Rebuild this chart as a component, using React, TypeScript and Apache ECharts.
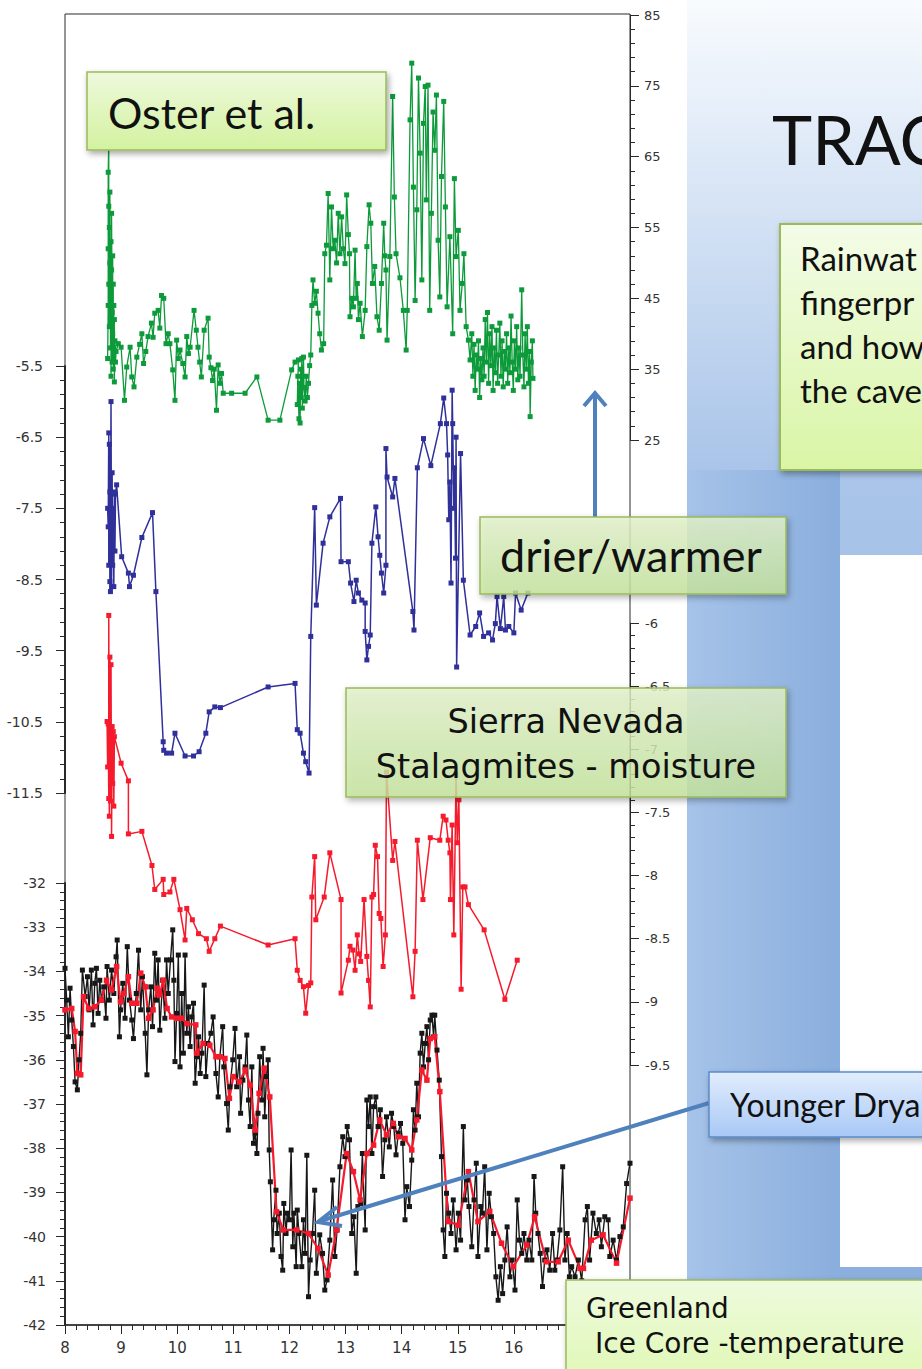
import { useEffect, useRef } from "react";
import * as echarts from "echarts";

// ---------------- DATA (age in ka) ----------------
const xAgeMin = 8;
const xAgeMax = 18.07;
const xTickLabelsShown = [8, 9, 10, 11, 12, 13, 14, 15, 16];

// Oster et al. (green, right axis 25..85)
const osterSeries: [number, number][] = [
  [8.76, 36.5], [8.77, 44], [8.77, 52], [8.77, 62.8], [8.78, 67], [8.78, 58], [8.78, 47], [8.79, 55], [8.79, 41],
  [8.8, 50], [8.8, 60], [8.81, 45], [8.81, 38], [8.82, 53], [8.82, 34], [8.83, 49], [8.83, 57], [8.84, 43],
  [8.84, 36], [8.85, 51], [8.85, 40], [8.86, 47], [8.86, 35], [8.87, 44], [8.87, 38], [8.88, 42], [8.88, 33.2],
  [8.89, 39], [8.9, 36], [8.91, 37.5], [8.95, 38.6], [9.0, 38.1], [9.06, 30.6], [9.1, 35.3], [9.16, 38.1],
  [9.19, 33.9], [9.23, 32.5], [9.28, 36.7], [9.33, 38.5], [9.37, 40.0], [9.4, 35.8], [9.44, 37.5], [9.48, 39.6],
  [9.54, 41.5], [9.57, 39.5], [9.6, 42.9], [9.66, 43.3], [9.69, 40.8], [9.72, 45.4], [9.76, 45.0], [9.8, 38.6],
  [9.84, 40], [9.87, 38.6], [9.92, 34.9], [9.96, 30.6], [9.99, 39.1], [10.02, 36.5], [10.05, 37.7], [10.1, 35.8],
  [10.14, 33.9], [10.17, 39.6], [10.2, 37.2], [10.23, 38.1], [10.3, 43.3], [10.34, 40.5], [10.37, 38.1],
  [10.4, 36], [10.43, 33.9], [10.48, 40.5], [10.55, 42.2], [10.57, 36.7], [10.6, 35.2], [10.63, 33.4],
  [10.66, 35], [10.7, 29.2], [10.73, 35.6], [10.76, 33], [10.79, 34.4], [10.82, 31.6], [10.97, 31.6],
  [11.21, 31.6], [11.42, 33.9], [11.62, 27.8], [11.83, 27.8], [12.04, 34.9], [12.1, 36], [12.16, 36.3],
  [12.14, 30], [12.15, 34], [12.17, 28], [12.18, 33], [12.19, 27.4], [12.2, 35], [12.21, 31], [12.22, 36.5],
  [12.23, 29.5], [12.25, 36.7], [12.26, 32.4], [12.28, 30.5], [12.3, 34], [12.32, 31], [12.34, 33.0],
  [12.36, 35.5], [12.38, 37], [12.4, 44], [12.42, 47.6], [12.45, 44.3], [12.48, 46], [12.51, 42.9],
  [12.54, 40], [12.57, 37.7], [12.61, 38.6], [12.63, 51.3], [12.66, 52.5], [12.69, 59.8], [12.72, 47.6],
  [12.75, 57.9], [12.78, 52], [12.81, 53.2], [12.84, 50], [12.87, 57.0], [12.9, 51.3], [12.93, 56.5],
  [12.96, 52], [12.99, 49.9], [13.02, 59.6], [13.05, 54], [13.07, 51.3], [13.08, 42.4], [13.11, 45],
  [13.14, 43.8], [13.17, 51.8], [13.19, 45], [13.21, 47.1], [13.23, 42], [13.26, 44.3], [13.3, 39.6],
  [13.35, 43.3], [13.38, 52.3], [13.42, 58.2], [13.45, 55.6], [13.48, 47.1], [13.52, 49.5], [13.56, 42.4],
  [13.6, 40.5], [13.64, 47.1], [13.68, 55.6], [13.7, 51], [13.72, 49.0], [13.74, 39.1], [13.79, 50.9],
  [13.84, 73.5], [13.87, 59.3], [13.9, 51.3], [13.97, 47.9], [14.03, 43.3], [14.08, 37.7], [14.1, 43.3],
  [14.15, 70.2], [14.18, 78.2], [14.21, 60.7], [14.24, 44.7], [14.27, 57.5], [14.3, 76.1], [14.33, 65.5],
  [14.36, 47.6], [14.39, 69.7], [14.42, 74.9], [14.44, 58.9], [14.47, 75.1], [14.5, 43.3], [14.53, 57.0],
  [14.56, 71.3], [14.59, 65.9], [14.62, 73.7], [14.65, 53.2], [14.68, 45.2], [14.71, 62.2], [14.75, 72.8],
  [14.78, 57.9], [14.81, 43.8], [14.86, 53.7], [14.91, 40.0], [14.94, 61.9], [14.97, 50.9], [15.01, 54.6],
  [15.04, 43.3], [15.08, 47.1], [15.11, 51.3], [15.15, 41.0], [15.19, 39.1], [15.22, 36.3], [15.25, 40],
  [15.27, 34], [15.29, 38.5], [15.31, 32], [15.33, 37], [15.35, 35], [15.37, 39], [15.39, 31], [15.41, 36.5],
  [15.43, 33.5], [15.45, 38], [15.47, 34], [15.49, 42], [15.51, 36], [15.53, 43], [15.55, 33], [15.57, 40],
  [15.59, 35.5], [15.61, 41], [15.63, 32], [15.65, 38], [15.67, 34.5], [15.69, 40.5], [15.71, 33],
  [15.73, 37], [15.75, 41.5], [15.77, 34], [15.79, 39], [15.81, 32.5], [15.83, 37.5], [15.85, 35],
  [15.87, 40], [15.89, 33], [15.91, 38], [15.93, 34.5], [15.95, 42.5], [15.97, 36], [15.99, 32], [16.01, 39],
  [16.03, 35], [16.05, 41], [16.07, 33.5], [16.09, 38], [16.11, 34], [16.14, 46.2], [16.16, 37], [16.18, 32.5],
  [16.2, 40], [16.22, 35], [16.24, 41], [16.26, 33], [16.28, 37.5], [16.29, 28.3], [16.31, 36], [16.33, 39],
  [16.34, 33.7],
];

// Sierra Nevada stalagmite 1 (blue, left axis -11.5..-5.5)
const blueStalagSeries: [number, number][] = [
  [8.76, -7.5], [8.77, -7.76], [8.78, -6.44], [8.78, -8.3], [8.79, -6.6], [8.8, -8.53], [8.8, -7.27],
  [8.81, -8.67], [8.82, -6.0], [8.83, -8.6], [8.84, -7.0], [8.85, -8.3], [8.86, -7.5], [8.87, -8.6],
  [8.88, -7.27], [8.89, -8.1], [8.9, -7.3], [8.92, -7.17], [9.01, -8.18], [9.13, -8.41], [9.15, -8.6],
  [9.22, -8.44], [9.37, -7.91], [9.56, -7.56], [9.62, -8.67], [9.75, -10.78], [9.76, -10.9], [9.81, -10.94],
  [9.9, -10.94], [9.96, -10.66], [10.14, -10.98], [10.29, -10.98], [10.39, -10.92], [10.51, -10.66],
  [10.57, -10.36], [10.67, -10.29], [10.77, -10.3], [11.62, -10.01], [12.1, -9.96], [12.14, -10.61],
  [12.19, -10.66], [12.25, -10.94], [12.29, -11.06], [12.35, -11.22], [12.38, -9.3], [12.45, -7.49],
  [12.48, -8.86], [12.6, -7.99], [12.72, -7.62], [12.91, -7.36], [12.92, -8.25], [13.05, -8.25],
  [13.09, -8.55], [13.15, -8.81], [13.19, -8.51], [13.23, -8.69], [13.29, -8.79], [13.35, -8.83],
  [13.35, -9.23], [13.38, -9.63], [13.41, -9.44], [13.44, -9.28], [13.47, -7.99], [13.54, -7.48],
  [13.58, -7.9], [13.61, -8.16], [13.64, -8.41], [13.68, -8.69], [13.72, -8.3], [13.72, -6.66],
  [13.74, -7.06], [13.84, -7.34], [13.88, -7.08], [14.2, -8.95], [14.22, -9.21], [14.28, -6.93],
  [14.39, -6.52], [14.52, -6.9], [14.69, -6.31], [14.75, -5.95], [14.8, -6.31], [14.82, -6.75],
  [14.84, -7.66], [14.86, -7.13], [14.88, -8.55], [14.9, -5.84], [14.91, -6.31], [14.93, -7.5],
  [14.94, -6.93], [14.96, -8.2], [14.97, -6.5], [14.98, -9.73], [15.05, -6.73], [15.1, -8.51],
  [15.22, -9.28], [15.32, -9.16], [15.39, -8.97], [15.46, -9.3], [15.55, -9.25], [15.62, -9.35],
  [15.67, -9.12], [15.7, -8.74], [15.76, -9.19], [15.82, -8.74], [15.85, -9.21], [15.91, -9.16],
  [16.0, -9.25], [16.03, -8.69], [16.13, -8.93], [16.25, -8.69],
];

// Sierra Nevada stalagmite 2 (red, right axis -9.5..-6)
const redStalagSeries: [number, number][] = [
  [8.75, -6.78], [8.76, -7.14], [8.77, -6.8], [8.78, -7.39], [8.78, -5.94], [8.79, -7.53], [8.8, -6.27],
  [8.81, -7.41], [8.82, -6.33], [8.83, -7.69], [8.84, -6.82], [8.85, -7.27], [8.86, -6.86], [8.87, -7.45],
  [8.88, -6.9], [9.0, -7.11], [9.13, -7.25], [9.13, -7.67], [9.37, -7.65], [9.55, -7.92], [9.6, -8.11],
  [9.75, -8.03], [9.76, -8.15], [9.87, -8.13], [9.94, -8.03], [10.05, -8.27], [10.14, -8.51], [10.17, -8.26],
  [10.27, -8.35], [10.38, -8.46], [10.52, -8.5], [10.57, -8.6], [10.67, -8.5], [10.77, -8.4], [11.62, -8.55],
  [12.1, -8.5], [12.14, -8.75], [12.19, -8.83], [12.25, -8.88], [12.29, -9.09], [12.34, -8.87],
  [12.38, -8.85], [12.4, -8.17], [12.45, -7.85], [12.47, -8.35], [12.62, -8.17], [12.72, -7.82],
  [12.92, -8.19], [12.92, -8.93], [13.05, -8.67], [13.08, -8.56], [13.13, -8.59], [13.17, -8.75],
  [13.21, -8.47], [13.24, -8.62], [13.27, -8.68], [13.33, -8.19], [13.38, -8.64], [13.41, -8.83],
  [13.44, -9.04], [13.47, -8.17], [13.5, -8.15], [13.53, -7.76], [13.57, -7.85], [13.6, -8.3],
  [13.63, -8.34], [13.67, -8.72], [13.71, -8.47], [13.73, -7.18], [13.84, -7.88], [13.88, -7.73],
  [14.2, -8.96], [14.24, -8.6], [14.28, -7.72], [14.38, -8.19], [14.51, -7.7], [14.68, -7.72],
  [14.74, -7.53], [14.79, -7.56], [14.83, -7.72], [14.86, -7.82], [14.87, -8.19], [14.9, -7.6],
  [14.93, -8.47], [14.97, -7.2], [14.99, -7.74], [15.02, -7.4], [15.06, -8.9], [15.09, -8.09],
  [15.13, -8.09], [15.19, -8.23], [15.47, -8.43], [15.84, -8.98], [16.06, -8.67],
];

// Greenland ice core temperature proxy (black raw, red smoothed; left axis -42..-32)
const greenlandRaw: [number, number][] = [
  [8.0, -33.93], [8.03, -34.65], [8.06, -35.48], [8.09, -34.38], [8.12, -35.1], [8.15, -35.7], [8.18, -36.5],
  [8.22, -36.68], [8.25, -36.0], [8.28, -35.4], [8.31, -33.97], [8.36, -34.57], [8.4, -34.12], [8.43, -34.87],
  [8.47, -33.97], [8.5, -35.21], [8.53, -34.27], [8.56, -33.93], [8.59, -34.95], [8.62, -34.2], [8.65, -34.65],
  [8.69, -34.35], [8.73, -35.06], [8.75, -33.89], [8.79, -34.65], [8.83, -33.97], [8.87, -34.5], [8.91, -33.67],
  [8.93, -33.29], [8.97, -35.48], [8.99, -34.87], [9.03, -34.27], [9.07, -35.06], [9.11, -33.44], [9.15, -34.65],
  [9.19, -35.1], [9.22, -35.52], [9.27, -34.5], [9.31, -33.52], [9.35, -34.87], [9.38, -34.12], [9.43, -35.4],
  [9.46, -36.34], [9.49, -34.87], [9.53, -34.35], [9.56, -35.25], [9.6, -33.59], [9.63, -34.65], [9.66, -33.74],
  [9.69, -35.33], [9.74, -34.2], [9.78, -35.06], [9.81, -33.74], [9.84, -34.5], [9.88, -33.74], [9.92, -33.06],
  [9.94, -34.2], [9.96, -36.04], [9.99, -34.95], [10.02, -33.63], [10.05, -36.16], [10.08, -34.5], [10.11, -35.85],
  [10.14, -33.63], [10.17, -35.4], [10.2, -34.8], [10.23, -35.7], [10.26, -35.03], [10.29, -34.72], [10.32, -36.53],
  [10.35, -35.93], [10.38, -35.48], [10.41, -36.31], [10.44, -35.85], [10.48, -34.31], [10.51, -36.38],
  [10.55, -35.63], [10.6, -35.4], [10.64, -35.03], [10.69, -36.31], [10.73, -36.84], [10.76, -35.93],
  [10.81, -35.25], [10.83, -36.16], [10.88, -36.99], [10.91, -37.59], [10.94, -36.61], [10.99, -36.0],
  [11.03, -35.29], [11.06, -36.61], [11.11, -35.93], [11.13, -37.21], [11.17, -36.46], [11.21, -36.16],
  [11.24, -35.44], [11.27, -36.91], [11.3, -37.51], [11.33, -36.16], [11.36, -37.89], [11.39, -37.66],
  [11.42, -38.12], [11.44, -37.21], [11.47, -35.93], [11.51, -36.91], [11.53, -35.74], [11.56, -37.29],
  [11.59, -36.38], [11.62, -36.0], [11.64, -38.04], [11.66, -38.76], [11.7, -40.3], [11.72, -39.62],
  [11.76, -38.95], [11.78, -39.93], [11.82, -39.47], [11.85, -40.45], [11.88, -40.76], [11.9, -39.25],
  [11.94, -39.93], [11.96, -39.47], [12.0, -39.62], [12.03, -38.04], [12.06, -40.23], [12.08, -39.47],
  [12.12, -40.68], [12.14, -39.4], [12.17, -39.93], [12.22, -40.68], [12.25, -39.62], [12.28, -40.38],
  [12.31, -38.16], [12.34, -41.36], [12.37, -40.53], [12.41, -39.93], [12.45, -38.95], [12.48, -40.83],
  [12.54, -39.96], [12.59, -40.38], [12.63, -41.21], [12.67, -40.98], [12.72, -40.08], [12.77, -38.72],
  [12.81, -40.45], [12.85, -39.85], [12.9, -38.42], [12.95, -37.74], [12.99, -38.19], [13.03, -37.51],
  [13.07, -37.81], [13.11, -39.93], [13.15, -39.55], [13.19, -40.83], [13.22, -39.32], [13.27, -39.25],
  [13.3, -38.12], [13.35, -39.85], [13.38, -36.91], [13.41, -37.51], [13.44, -36.84], [13.47, -38.12],
  [13.5, -37.06], [13.54, -36.84], [13.58, -37.51], [13.62, -37.13], [13.66, -38.64], [13.7, -37.81],
  [13.73, -37.29], [13.78, -37.97], [13.82, -37.21], [13.86, -37.51], [13.9, -38.15], [13.94, -37.66],
  [13.98, -37.44], [14.02, -37.89], [14.06, -39.62], [14.09, -38.87], [14.14, -39.32], [14.18, -38.27],
  [14.21, -37.13], [14.24, -37.59], [14.27, -36.53], [14.3, -37.29], [14.33, -35.85], [14.36, -35.4],
  [14.39, -36.16], [14.42, -35.63], [14.45, -35.25], [14.48, -36.0], [14.51, -35.1], [14.54, -34.99],
  [14.57, -35.48], [14.59, -34.99], [14.63, -35.78], [14.67, -36.46], [14.71, -38.19], [14.74, -39.85],
  [14.77, -40.45], [14.8, -39.02], [14.84, -39.47], [14.88, -39.93], [14.92, -39.17], [14.97, -40.3],
  [15.01, -39.47], [15.05, -40.08], [15.1, -37.51], [15.13, -39.17], [15.17, -38.72], [15.2, -39.32],
  [15.25, -40.23], [15.29, -39.17], [15.33, -38.34], [15.36, -40.45], [15.41, -39.32], [15.44, -39.47],
  [15.48, -38.42], [15.52, -40.3], [15.56, -39.02], [15.6, -39.55], [15.64, -39.93], [15.68, -40.91],
  [15.72, -41.44], [15.76, -40.68], [15.8, -41.29], [15.84, -40.53], [15.88, -39.78], [15.93, -40.91],
  [15.97, -40.53], [16.02, -41.21], [16.06, -39.17], [16.1, -40.08], [16.14, -40.38], [16.18, -39.93],
  [16.23, -40.53], [16.27, -40.08], [16.32, -40.53], [16.36, -38.64], [16.39, -39.47], [16.43, -39.93],
  [16.47, -40.38], [16.51, -41.13], [16.55, -40.53], [16.59, -40.3], [16.64, -40.76], [16.69, -39.93],
  [16.73, -40.76], [16.77, -40.53], [16.82, -39.85], [16.87, -38.42], [16.91, -40.53], [16.95, -39.93],
  [16.99, -40.91], [17.03, -40.68], [17.09, -40.91], [17.15, -40.53], [17.21, -41.0], [17.27, -39.62],
  [17.31, -39.32], [17.35, -40.53], [17.41, -39.47], [17.47, -39.93], [17.52, -39.62], [17.56, -40.23],
  [17.62, -39.55], [17.68, -39.62], [17.71, -40.45], [17.77, -40.08], [17.83, -40.53], [17.89, -40.0],
  [17.95, -39.78], [18.01, -38.8], [18.07, -38.34],
];

const greenlandSmooth: [number, number][] = [
  [8.0, -34.87], [8.12, -34.84], [8.18, -35.36], [8.22, -36.31], [8.28, -36.34], [8.33, -34.57], [8.42, -34.84],
  [8.53, -34.8], [8.65, -34.65], [8.74, -34.2], [8.83, -34.42], [8.92, -33.89], [8.99, -34.69], [9.05, -34.5],
  [9.13, -34.12], [9.19, -34.72], [9.28, -34.72], [9.35, -34.04], [9.43, -34.35], [9.49, -35.06], [9.57, -34.87],
  [9.64, -34.38], [9.69, -34.53], [9.75, -34.2], [9.82, -34.84], [9.9, -35.03], [9.99, -35.06], [10.08, -35.06],
  [10.17, -35.18], [10.33, -35.21], [10.35, -35.85], [10.46, -35.63], [10.58, -35.67], [10.69, -35.93],
  [10.76, -35.93], [10.85, -35.97], [10.93, -36.87], [11.0, -36.38], [11.11, -36.5], [11.21, -36.23],
  [11.3, -36.57], [11.39, -37.59], [11.46, -36.76], [11.55, -36.19], [11.65, -36.84], [11.77, -39.44],
  [11.89, -39.85], [12.13, -39.85], [12.34, -39.93], [12.51, -40.27], [12.69, -40.87], [12.84, -39.85],
  [13.02, -38.12], [13.14, -38.53], [13.26, -39.17], [13.38, -38.12], [13.5, -37.93], [13.61, -37.36],
  [13.73, -37.7], [13.85, -37.44], [13.94, -37.74], [14.06, -37.78], [14.18, -38.04], [14.27, -37.36],
  [14.36, -36.23], [14.45, -36.46], [14.51, -35.52], [14.59, -35.48], [14.68, -36.72], [14.83, -39.66],
  [15.01, -39.74], [15.19, -38.53], [15.36, -39.66], [15.57, -39.43], [15.78, -40.15], [15.99, -40.68],
  [16.23, -40.19], [16.37, -39.55], [16.58, -40.57], [16.79, -40.57], [16.97, -40.08], [17.18, -40.72],
  [17.24, -40.72], [17.38, -40.08], [17.59, -39.96], [17.83, -40.6], [18.07, -39.13],
];

// Text content
const titleText = "TRAC";
const infoLines = ["Rainwat", "fingerpr", "and how", "the cave"];
const osterLabel = "Oster et al.";
const drierLabel = "drier/warmer";
const sierraLines = ["Sierra Nevada", "Stalagmites - moisture"];
const youngerDryasLabel = "Younger Drya";
const greenlandLines = ["Greenland", "Ice Core -temperature"];

// ---------------- STYLE ----------------
const GREEN = "#0d9a3a";
const BLUE = "#30309a";
const RED = "#f51a2c";
const BLACK = "#171717";
const AXIS = "#2a2a2a";
const ARROW = "#4f81bd";
const BOX_STROKE = "#9bbb59";
const COMIC = "'DejaVu Sans', 'Noto Sans', sans-serif";
const SLIDE = "Lato, 'Open Sans', sans-serif";

function vgrad(stops: [number, string][]) {
  return { type: "linear", x: 0, y: 0, x2: 0, y2: 1, colorStops: stops.map(([offset, color]) => ({ offset, color })) };
}
function hgrad(stops: [number, string][]) {
  return { type: "linear", x: 0, y: 0, x2: 1, y2: 0, colorStops: stops.map(([offset, color]) => ({ offset, color })) };
}

const shadow = { shadowBlur: 6, shadowOffsetX: 2, shadowOffsetY: 3, shadowColor: "rgba(0,0,0,0.35)" };

function yAxis(gridIndex: number, position: "left" | "right", min: number, max: number, interval: number, opts: any) {
  return {
    type: "value",
    gridIndex,
    position,
    min,
    max,
    interval,
    splitLine: { show: false },
    axisLine: { show: true, onZero: false, lineStyle: { color: AXIS, width: opts.lineWidth ?? 1 } },
    axisTick: { show: true, length: 9, lineStyle: { color: AXIS, width: 1 } },
    minorTick: { show: true, splitNumber: 5, length: 5, lineStyle: { color: AXIS, width: 1 } },
    axisLabel: {
      show: true,
      margin: opts.margin,
      color: "#333",
      fontSize: opts.fontSize,
      fontFamily: opts.fontFamily,
      showMinLabel: true,
      showMaxLabel: true,
    },
  };
}

function xAxis(gridIndex: number, show: boolean) {
  return {
    type: "value",
    gridIndex,
    min: xAgeMin,
    max: xAgeMax,
    interval: 1,
    show,
    position: "bottom",
    splitLine: { show: false },
    axisLine: { show: true, onZero: false, lineStyle: { color: AXIS, width: 1.5 } },
    axisTick: { show: true, length: 9, lineStyle: { color: AXIS } },
    minorTick: { show: true, splitNumber: 5, length: 5, lineStyle: { color: AXIS } },
    axisLabel: {
      margin: 15,
      color: "#333",
      fontSize: 15,
      fontFamily: "'DejaVu Sans', sans-serif",
      formatter: (v: number) => (xTickLabelsShown.includes(v) ? String(v) : ""),
    },
  };
}

function lineSeries(name: string, data: [number, number][], idx: number, color: string, width: number, size: number) {
  return {
    name,
    type: "line",
    xAxisIndex: idx,
    yAxisIndex: idx,
    data,
    clip: false,
    symbol: "rect",
    symbolSize: size,
    showSymbol: true,
    showAllSymbol: true,
    lineStyle: { color, width },
    itemStyle: { color },
    silent: true,
  };
}

function buildGraphics() {
  const els: any[] = [];
  // slide background on the right
  els.push({ type: "rect", z: -100, shape: { x: 687, y: 0, width: 240, height: 1369 }, style: { fill: vgrad([[0, "#f8fbfe"], [0.34, "#aac5e9"], [1, "#88acdc"]]) } });
  els.push({ type: "rect", z: -99, shape: { x: 687, y: 470, width: 153, height: 899 }, style: { fill: hgrad([[0, "#a6c3e9"], [1, "#8aaedd"]]) } });
  els.push({ type: "rect", z: -98, shape: { x: 840, y: 555, width: 90, height: 712 }, style: { fill: "#ffffff" } });
  // chart frame
  els.push({ type: "rect", z: -50, shape: { x: 65, y: 14, width: 565, height: 1311 }, style: { fill: "#ffffff", stroke: AXIS, lineWidth: 1 } });

  // title
  els.push({ type: "text", z: 100, x: 772, y: 138, style: { text: titleText, font: `68px ${SLIDE}`, fill: "#111", textAlign: "left", textVerticalAlign: "middle" } });
  // info box top right
  els.push({ type: "rect", z: 100, shape: { x: 780, y: 224, width: 160, height: 246 }, style: { fill: vgrad([[0, "#f3fce8"], [1, "#d9f5a5"]]), stroke: BOX_STROKE, lineWidth: 2, ...shadow } });
  infoLines.forEach((t, i) => {
    els.push({ type: "text", z: 101, x: 800, y: 258 + i * 44, style: { text: t, font: `33px ${SLIDE}`, fill: "#111", textAlign: "left", textVerticalAlign: "middle" } });
  });

  // Oster et al. box
  els.push({ type: "rect", z: 100, shape: { x: 87, y: 72, width: 299, height: 78 }, style: { fill: vgrad([[0, "#eef9dc"], [1, "#d3f2a0"]]), stroke: BOX_STROKE, lineWidth: 1.5, ...shadow } });
  els.push({ type: "text", z: 101, x: 108, y: 112, style: { text: osterLabel, font: `43px ${SLIDE}`, fill: "#111", textAlign: "left", textVerticalAlign: "middle" } });

  // up arrow
  els.push({ type: "line", z: 90, shape: { x1: 595, y1: 517, x2: 595, y2: 394 }, style: { stroke: ARROW, lineWidth: 4 } });
  els.push({ type: "polyline", z: 90, shape: { points: [[584, 406], [595, 393], [606, 406]] }, style: { stroke: ARROW, lineWidth: 4, fill: null } });

  // drier/warmer box
  els.push({ type: "rect", z: 100, shape: { x: 480, y: 517, width: 306, height: 77 }, style: { fill: vgrad([[0, "rgba(228,244,204,0.8)"], [1, "rgba(198,230,158,0.8)"]]), stroke: BOX_STROKE, lineWidth: 1.5, ...shadow } });
  els.push({ type: "text", z: 101, x: 500, y: 555, style: { text: drierLabel, font: `45px ${SLIDE}`, fill: "#111", textAlign: "left", textVerticalAlign: "middle" } });

  // Sierra Nevada box
  els.push({ type: "rect", z: 100, shape: { x: 346, y: 688, width: 440, height: 109 }, style: { fill: vgrad([[0, "rgba(228,244,204,0.8)"], [1, "rgba(198,230,158,0.8)"]]), stroke: BOX_STROKE, lineWidth: 1.5, ...shadow } });
  sierraLines.forEach((t, i) => {
    els.push({ type: "text", z: 101, x: 566, y: 721 + i * 45, style: { text: t, font: `33.5px ${COMIC}`, fill: "#111", textAlign: "center", textVerticalAlign: "middle" } });
  });

  // Younger Dryas arrow
  els.push({ type: "line", z: 90, shape: { x1: 709, y1: 1103, x2: 320, y2: 1221 }, style: { stroke: ARROW, lineWidth: 4 } });
  els.push({ type: "polyline", z: 90, shape: { points: [[337, 1207], [318, 1222], [342, 1226]] }, style: { stroke: ARROW, lineWidth: 4, fill: null } });
  // Younger Dryas box
  els.push({ type: "rect", z: 100, shape: { x: 709, y: 1072, width: 230, height: 65 }, style: { fill: vgrad([[0, "#e2edfd"], [1, "#a8c8f6"]]), stroke: "#5b8bc9", lineWidth: 1.5, ...shadow } });
  els.push({ type: "text", z: 101, x: 730, y: 1104, style: { text: youngerDryasLabel, font: `32px ${SLIDE}`, fill: "#111", textAlign: "left", textVerticalAlign: "middle" } });

  // Greenland box
  els.push({ type: "rect", z: 100, shape: { x: 566, y: 1280, width: 370, height: 100 }, style: { fill: vgrad([[0, "#eefadd"], [1, "#e0f8b6"]]), stroke: BOX_STROKE, lineWidth: 1.5, ...shadow } });
  els.push({ type: "text", z: 101, x: 586, y: 1308, style: { text: greenlandLines[0], font: `27.5px ${COMIC}`, fill: "#111", textAlign: "left", textVerticalAlign: "middle" } });
  els.push({ type: "text", z: 101, x: 595, y: 1343, style: { text: greenlandLines[1], font: `28px ${COMIC}`, fill: "#111", textAlign: "left", textVerticalAlign: "middle" } });
  return els;
}

function buildOption() {
  const L = 65;
  const W = 565;
  return {
    animation: false,
    backgroundColor: "#ffffff",
    grid: [
      { left: L, width: W, top: 15, height: 425, outerBoundsMode: "none", containLabel: false },
      { left: L, width: W, top: 366, height: 427, outerBoundsMode: "none", containLabel: false },
      { left: L, width: W, top: 623, height: 442, outerBoundsMode: "none", containLabel: false },
      { left: L, width: W, top: 883, height: 442, outerBoundsMode: "none", containLabel: false },
    ],
    xAxis: [xAxis(0, false), xAxis(1, false), xAxis(2, false), xAxis(3, true)],
    yAxis: [
      yAxis(0, "right", 25, 85, 10, { margin: 14, fontSize: 13, fontFamily: "'DejaVu Sans', sans-serif" }),
      yAxis(1, "left", -11.5, -5.5, 1, { margin: 22, fontSize: 14, fontFamily: "'DejaVu Sans', sans-serif", lineWidth: 2 }),
      yAxis(2, "right", -9.5, -6, 0.5, { margin: 15, fontSize: 13, fontFamily: "'DejaVu Sans', sans-serif" }),
      yAxis(3, "left", -42, -32, 1, { margin: 19, fontSize: 14, fontFamily: "'DejaVu Sans', sans-serif", lineWidth: 2 }),
    ],
    series: [
      lineSeries("Oster et al.", osterSeries, 0, GREEN, 1.3, 5),
      lineSeries("Stalagmite (blue)", blueStalagSeries, 1, BLUE, 1.5, 5),
      lineSeries("Stalagmite (red)", redStalagSeries, 2, RED, 1.5, 5),
      lineSeries("Greenland raw", greenlandRaw, 3, BLACK, 1.4, 5),
      lineSeries("Greenland smoothed", greenlandSmooth, 3, RED, 2.2, 5.5),
    ],
    graphic: { elements: buildGraphics() },
  };
}

export default function App() {
  const ref = useRef<HTMLDivElement>(null);
  useEffect(() => {
    if (!ref.current) return;
    const chart = echarts.init(ref.current, null, { renderer: "svg" });
    chart.setOption(buildOption() as any);
    return () => chart.dispose();
  }, []);
  return (
    <div
      ref={ref}
      style={{ position: "absolute", left: 0, top: 0, width: 922, height: 1369, background: "#ffffff" }}
    />
  );
}
